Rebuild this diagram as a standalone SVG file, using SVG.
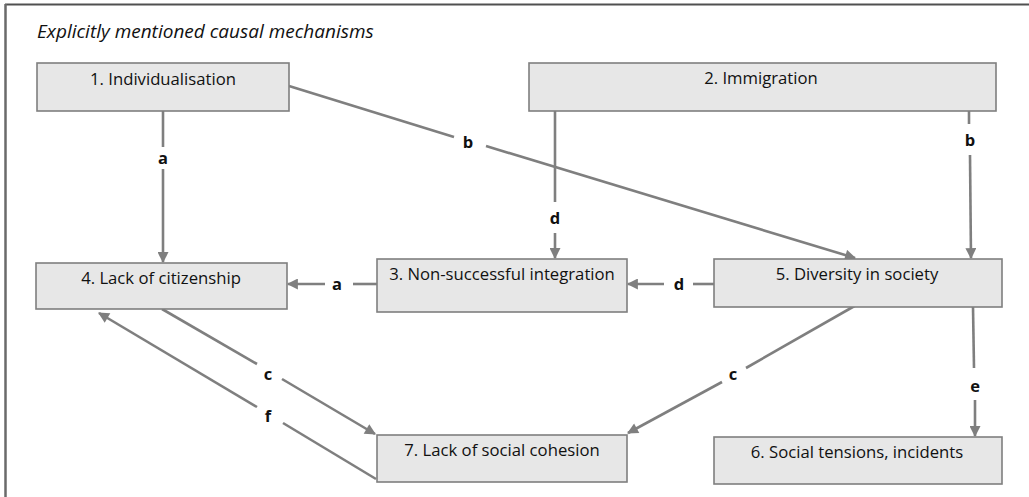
<svg xmlns="http://www.w3.org/2000/svg" width="1029" height="497" viewBox="0 0 1029 497">
  <defs>
    <marker id="arr" viewBox="0 0 10 10" refX="9" refY="5" markerWidth="12" markerHeight="11" markerUnits="userSpaceOnUse" orient="auto">
      <path d="M0,0 L10,5 L0,10 z" fill="#7f7f7f"/>
    </marker>
    <style>
      .box { fill: #e7e7e7; stroke: #7f7f7f; stroke-width: 1.6; }
      .txt { font-family: "Open Sans", "Liberation Sans", sans-serif; font-size: 16.7px; fill: #111; text-anchor: middle; }
      .lbl { font-family: "Open Sans", "Liberation Sans", sans-serif; font-size: 16.5px; font-weight: bold; fill: #111; text-anchor: middle; }
      .ln { stroke: #7f7f7f; stroke-width: 2.6; fill: none; }
      .ar { marker-end: url(#arr); }
      .title { font-family: "Open Sans", "Liberation Sans", sans-serif; font-style: italic; font-size: 19px; fill: #111; }
    </style>
  </defs>
  <rect width="1029" height="497" fill="#ffffff"/>
  <g id="frame">
    <line x1="5" y1="4.5" x2="1029" y2="4.5" stroke="#505050" stroke-width="2"/>
    <line x1="5.5" y1="4" x2="5.5" y2="497" stroke="#6a6a6a" stroke-width="2.5"/>
  </g>
  <text class="title" x="37" y="38">Explicitly mentioned causal mechanisms</text>

  <g id="connectors">
    <!-- a: 1 -> 4 -->
    <line class="ln" x1="163" y1="111" x2="163" y2="147"/>
    <line class="ln ar" x1="163" y1="169" x2="163" y2="262"/>
    <text class="lbl" x="163" y="164">a</text>
    <!-- b: 1 -> 5 -->
    <line class="ln" x1="289" y1="86" x2="454" y2="137"/>
    <line class="ln ar" x1="486" y1="146" x2="855" y2="258"/>
    <text class="lbl" x="468" y="148">b</text>
    <!-- d: 2 -> 3 -->
    <line class="ln" x1="555" y1="111" x2="555" y2="202"/>
    <line class="ln ar" x1="555" y1="233" x2="555" y2="258"/>
    <text class="lbl" x="555" y="224">d</text>
    <!-- b: 2 -> 5 -->
    <line class="ln" x1="969" y1="111" x2="969" y2="124"/>
    <line class="ln ar" x1="970" y1="155" x2="971" y2="258"/>
    <text class="lbl" x="970" y="146">b</text>
    <!-- a: 3 -> 4 -->
    <line class="ln" x1="377" y1="284" x2="353" y2="284"/>
    <line class="ln ar" x1="325" y1="284" x2="288" y2="284"/>
    <text class="lbl" x="337" y="290">a</text>
    <!-- d: 5 -> 3 -->
    <line class="ln" x1="714" y1="284" x2="693" y2="284"/>
    <line class="ln ar" x1="664" y1="284" x2="628" y2="284"/>
    <text class="lbl" x="679" y="290">d</text>
    <!-- c: 4 -> 7 -->
    <line class="ln" x1="162" y1="309" x2="257" y2="364"/>
    <line class="ln ar" x1="282" y1="379" x2="375" y2="434"/>
    <text class="lbl" x="268" y="380">c</text>
    <!-- f: 7 -> 4 -->
    <line class="ln" x1="376" y1="479" x2="283" y2="423"/>
    <line class="ln ar" x1="257" y1="407" x2="99" y2="313"/>
    <text class="lbl" x="268" y="422">f</text>
    <!-- c: 5 -> 7 -->
    <line class="ln" x1="858" y1="304" x2="746" y2="368"/>
    <line class="ln ar" x1="722" y1="382" x2="628" y2="433"/>
    <text class="lbl" x="733" y="380">c</text>
    <!-- e: 5 -> 6 -->
    <line class="ln" x1="973" y1="307" x2="974" y2="368"/>
    <line class="ln ar" x1="975" y1="400" x2="975" y2="436"/>
    <text class="lbl" x="975" y="392">e</text>
  </g>

  <g id="node1">
    <rect class="box" x="37" y="63" width="252" height="48"/>
    <text class="txt" x="163" y="85">1. Individualisation</text>
  </g>
  <g id="node2">
    <rect class="box" x="529" y="63" width="467" height="48"/>
    <text class="txt" x="761" y="84">2. Immigration</text>
  </g>
  <g id="node3">
    <rect class="box" x="377" y="259" width="250" height="53"/>
    <text class="txt" x="502" y="280">3. Non-successful integration</text>
  </g>
  <g id="node4">
    <rect class="box" x="36" y="263" width="251" height="46"/>
    <text class="txt" x="161" y="284">4. Lack of citizenship</text>
  </g>
  <g id="node5">
    <rect class="box" x="714" y="259" width="288" height="48"/>
    <text class="txt" x="857" y="280">5. Diversity in society</text>
  </g>
  <g id="node6">
    <rect class="box" x="714" y="437" width="288" height="47"/>
    <text class="txt" x="857" y="458">6. Social tensions, incidents</text>
  </g>
  <g id="node7">
    <rect class="box" x="377" y="435" width="250" height="47"/>
    <text class="txt" x="502" y="456">7. Lack of social cohesion</text>
  </g>
</svg>
